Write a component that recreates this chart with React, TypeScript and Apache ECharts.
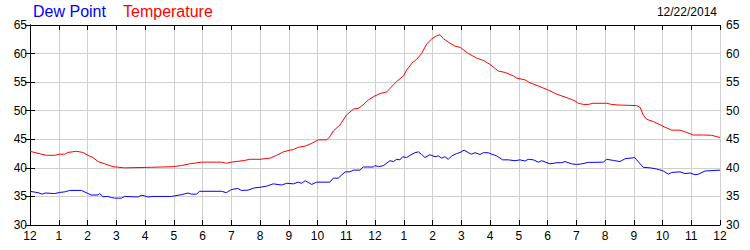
import React, { useEffect, useRef } from "react";
import * as echarts from "echarts";

const hourTicks = [0, 1, 2, 3, 4, 5, 6, 7, 8, 9, 10, 11, 12, 13, 14, 15, 16, 17, 18, 19, 20, 21, 22, 23, 24];
const hourLabels = ["12", "1", "2", "3", "4", "5", "6", "7", "8", "9", "10", "11", "12", "1", "2", "3", "4", "5", "6", "7", "8", "9", "10", "11", "12"];

const tempHours = [
  0, 0.39, 0.57, 0.86, 1.03, 1.21, 1.32, 1.61, 1.84, 2.02, 2.19, 2.37, 2.6, 2.89, 3.29, 4.22, 4.97, 5.26, 5.55, 5.96,
  6.66, 6.83, 7.0, 7.47, 7.64, 8.0, 8.35, 8.58, 8.81, 9.04, 9.16, 9.33, 9.57, 9.8, 10.03, 10.32, 10.43, 10.55, 10.78,
  11.01, 11.25, 11.42, 11.59, 11.77, 12.0, 12.17, 12.41, 12.52, 12.75, 12.99, 13.1, 13.28, 13.45, 13.62, 13.8, 13.97,
  14.14, 14.26, 14.38, 14.55, 14.78, 14.96, 15.25, 15.54, 15.77, 16.0, 16.29, 16.52, 16.81, 16.93, 17.22, 17.39, 17.74,
  18.03, 18.32, 18.49, 18.72, 18.96, 19.07, 19.25, 19.42, 19.59, 20.06, 20.23, 20.46, 21.1, 21.22, 21.33, 21.45, 21.68,
  21.91, 22.09, 22.32, 22.61, 22.84, 23.07, 23.42, 23.71, 24.0,
];
const tempValues = [
  42.9, 42.4, 42.2, 42.2, 42.4, 42.4, 42.7, 42.9, 42.7, 42.2, 41.8, 41.1, 40.7, 40.2, 40.0, 40.1, 40.2, 40.4, 40.7, 41.0,
  41.0, 40.8, 41.0, 41.3, 41.5, 41.5, 41.7, 42.2, 42.8, 43.1, 43.2, 43.6, 43.8, 44.3, 44.9, 44.9, 45.45, 46.45, 47.5,
  49.25, 50.3, 50.4, 51.05, 51.9, 52.6, 53.0, 53.3, 53.9, 55.1, 56.1, 57.1, 58.3, 59.0, 60.0, 61.7, 62.55,
  63.1, 63.3, 62.6, 62.0, 61.3, 61.1, 60.0, 59.2, 58.8, 58.1, 56.95, 56.7, 56.1, 55.7, 55.4, 54.9, 54.2,
  53.6, 52.9, 52.6, 52.2, 51.7, 51.3, 51.1, 51.1, 51.3, 51.3, 51.1, 51.0, 50.9, 50.6, 49.25, 48.5, 48.1,
  47.55, 47.1, 46.6, 46.6, 46.2, 45.75, 45.75, 45.7, 45.3,
];

const dewHours = [
  0, 0.28, 0.42, 0.53, 0.86, 1.03, 1.21, 1.38, 1.79, 2.02, 2.13, 2.37, 2.42, 2.54, 2.71, 2.83, 2.94, 3.18, 3.29, 3.76,
  3.87, 3.99, 4.1, 4.28, 4.92, 5.03, 5.26, 5.5, 5.61, 5.79, 5.9, 6.66, 6.83, 7.0, 7.23, 7.35, 7.58, 7.81,
  8.0, 8.23, 8.46, 8.75, 8.93, 9.16, 9.33, 9.45, 9.57, 9.8, 9.97, 10.43, 10.55, 10.72, 10.96, 11.13, 11.25, 11.48,
  11.59, 11.94, 12.0, 12.12, 12.29, 12.52, 12.64, 12.75, 12.87, 12.96, 13.1, 13.22, 13.39, 13.51, 13.62, 13.74, 13.91,
  14.09, 14.2, 14.32, 14.43, 14.55, 14.67, 14.84, 14.96, 15.1, 15.25, 15.36, 15.48, 15.65, 15.77, 15.94,
  16.0, 16.23, 16.44, 16.64, 16.87, 17.04, 17.22, 17.33, 17.51, 17.68, 17.8, 18.09, 18.32, 18.49, 18.61, 18.84, 19.01,
  19.19, 19.42, 19.94, 20.06, 20.29, 20.52, 20.7, 21.04, 21.1, 21.33, 21.57, 21.8, 22.03, 22.2, 22.32, 22.61, 22.78,
  22.96, 23.13, 23.25, 23.48, 24.0,
];
const dewValues = [
  35.9, 35.65, 35.4, 35.6, 35.5, 35.7, 35.8, 36.05, 36.05, 35.5, 35.25, 35.25, 35.5, 34.95, 35.0, 34.8, 34.7, 34.7, 35.0, 34.9,
  35.2, 35.1, 34.9, 35.0, 35.0, 35.1, 35.3, 35.6, 35.4, 35.4, 35.9, 35.9, 35.65, 36.2, 36.4, 36.05, 36.1, 36.5,
  36.6, 36.8, 37.2, 37.0, 37.3, 37.2, 37.5, 37.3, 37.75, 37.1, 37.5, 37.5, 38.2, 38.2, 39.3, 39.3, 39.6, 39.6,
  40.15, 40.15, 40.4, 40.2, 40.4, 41.25, 41.1, 41.5, 41.4, 41.95, 41.8, 42.2, 42.65, 42.8, 42.35, 41.8, 42.3,
  41.95, 42.1, 41.7, 41.95, 41.5, 42.1, 42.5, 42.7, 43.1, 42.65, 42.4, 42.65, 42.35, 42.65, 42.65,
  42.5, 42.1, 41.4, 41.4, 41.25, 41.4, 41.2, 41.5, 41.4, 41.0, 41.25, 40.7, 40.9, 40.9, 41.1, 40.7, 40.6,
  40.7, 40.95, 41.0, 41.5, 41.3, 41.1, 41.6, 41.8, 41.4, 40.1, 40.0, 39.8, 39.45, 38.9, 39.2, 39.3, 39.0,
  39.1, 38.8, 38.9, 39.45, 39.6,
];

const yMin = 30;
const yMax = 65;
const yStep = 5;
const dateLabel = "12/22/2014";

const FONT = "'Liberation Sans', Arial, sans-serif";

export default function App() {
  const ref = useRef<HTMLDivElement>(null);
  useEffect(() => {
    document.body.style.margin = "0";
    if (!ref.current) return;
    const chart = echarts.init(ref.current, undefined, { renderer: "svg" });
    const axisLine = { show: true, lineStyle: { color: "#000", width: 1 } };
    const tick = { show: true, inside: true, length: 5, lineStyle: { color: "#000", width: 1 } };
    const split = { show: true, lineStyle: { color: "#d0d0d0", width: 1 } };
    const labelStyle = { color: "#000", fontSize: 12, fontFamily: FONT };
    const xCommon = {
      type: "value" as const,
      min: hourTicks[0],
      max: hourTicks[hourTicks.length - 1],
      interval: 1,
      axisLine,
      axisTick: tick,
    };
    const yCommon = {
      type: "value" as const,
      min: yMin,
      max: yMax,
      interval: yStep,
      axisLine,
      axisTick: tick,
    };
    chart.setOption({
      animation: false,
      backgroundColor: "#fff",
      title: [
        { text: "Dew Point", left: 33, top: 3, padding: 0, textStyle: { color: "#0000ff", fontSize: 16, fontWeight: "normal", fontFamily: FONT } },
        { text: "Temperature", left: 123, top: 3, padding: 0, textStyle: { color: "#ff0000", fontSize: 16, fontWeight: "normal", fontFamily: FONT } },
        { text: dateLabel, right: 33, top: 6, padding: 0, textStyle: { color: "#000", fontSize: 12, fontWeight: "normal", fontFamily: FONT } },
      ],
      grid: { left: 30, right: 30, top: 25, bottom: 25, containLabel: false },
      xAxis: [
        {
          ...xCommon,
          position: "bottom",
          splitLine: split,
          axisLabel: {
            ...labelStyle,
            margin: 5,
            formatter: (v: number) => hourLabels[hourTicks.indexOf(v)] ?? "",
          },
        },
        { ...xCommon, position: "top", splitLine: { show: false }, axisLabel: { show: false } },
      ],
      yAxis: [
        { ...yCommon, position: "left", splitLine: split, axisLabel: { ...labelStyle, margin: 3 } },
        { ...yCommon, position: "right", splitLine: { show: false }, axisLabel: { ...labelStyle, margin: 6 } },
      ],
      series: [
        {
          name: "Dew Point",
          type: "line",
          data: dewHours.map((h, i) => [h, dewValues[i]]),
          showSymbol: false,
          lineStyle: { color: "#0000ff", width: 1 },
          itemStyle: { color: "#0000ff" },
          z: 3,
        },
        {
          name: "Temperature",
          type: "line",
          data: tempHours.map((h, i) => [h, tempValues[i]]),
          showSymbol: false,
          lineStyle: { color: "#ff0000", width: 1 },
          itemStyle: { color: "#ff0000" },
          z: 3,
        },
      ],
    });
    return () => chart.dispose();
  }, []);
  return <div ref={ref} style={{ width: 750, height: 250, position: "absolute", left: 0, top: 0 }} />;
}
